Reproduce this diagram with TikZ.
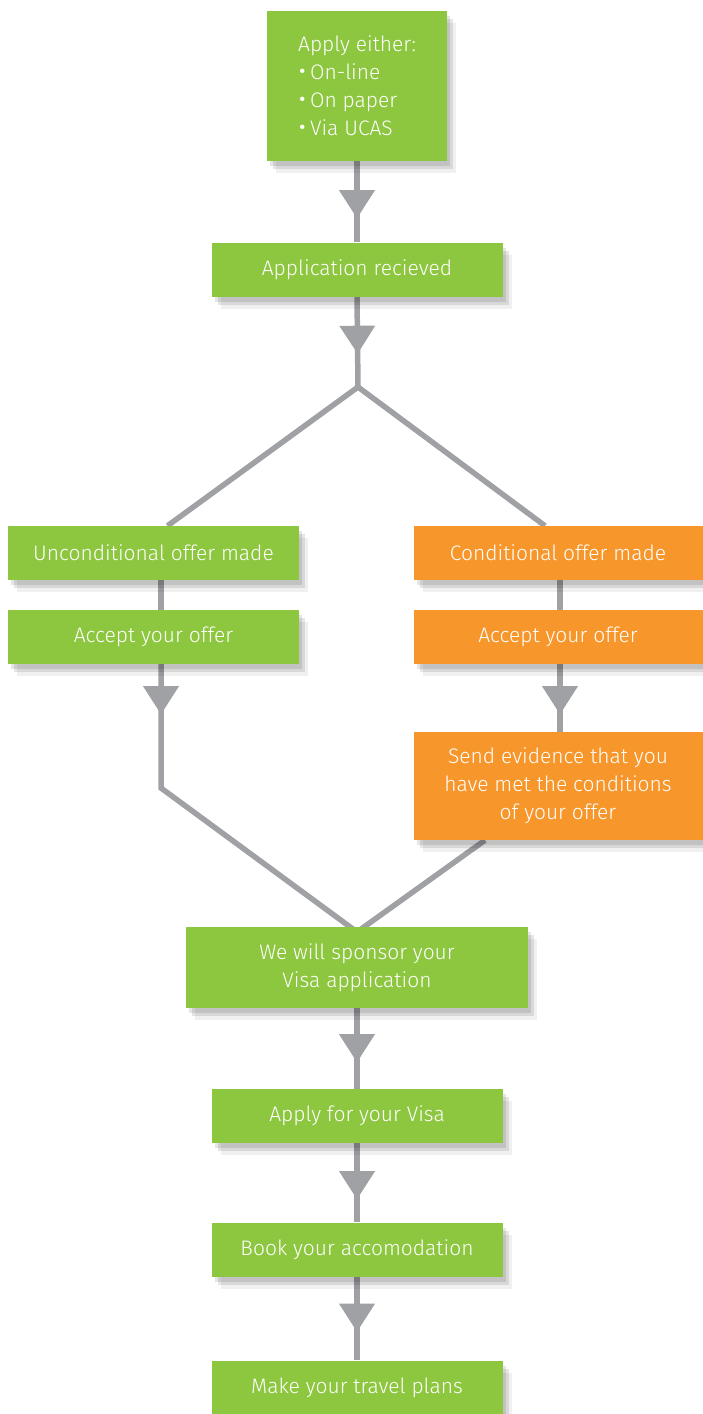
\documentclass[tikz,border=0pt]{standalone}
\usepackage{fontspec}
\setmainfont{Fira Sans}[UprightFont=* Light]
\usetikzlibrary{shadows,decorations.markings,backgrounds}

\definecolor{appgreen}{HTML}{8DC63F}
\definecolor{apporange}{HTML}{F7962B}
\definecolor{linkgray}{HTML}{A0A1A5}
\newcommand\boxfont{\fontsize{21}{28}\selectfont}
\newcommand\blt{\raisebox{-0.1em}[0.5em][0pt]{\scalebox{1.4}{\textbullet}}\,}

\begin{document}
\begin{tikzpicture}[x=1pt,y=-1pt,
    softshadow/.style={drop shadow={shadow xshift=3pt,shadow yshift=-5pt,opacity=.10,fill=black},
                       drop shadow={shadow xshift=6pt,shadow yshift=-8pt,opacity=.10,fill=black},
                       drop shadow={shadow xshift=9pt,shadow yshift=-12pt,opacity=.06,fill=black}},
    box/.style={fill=appgreen,text=white,minimum width=291pt,minimum height=54pt,inner sep=0pt,
                align=center,font=\boxfont,softshadow},
    condbox/.style={box,fill=apporange,minimum width=289pt},
    link/.style={draw=linkgray,line width=5.5pt},
    arrowmark/.style={postaction={decorate},decoration={markings,mark=at position #1 with
        {\fill[linkgray] (1pt,0pt) -- (-27pt,18pt) -- (-27pt,-18pt) -- cycle;}}}]

  %% Page size
  \useasboundingbox (0,0) rectangle (702,1414);

  %%%% Boxes of the main column %%%%
  \node[box,minimum width=180pt,minimum height=150pt,align=left] (apply) at (357,86)
    {Apply either:\\\blt On-line\\\blt On paper\\\blt Via UCAS};
  \node[box] (recv) at (357,269.5) {Application recieved};

  %% Left branch
  \node[box] (uncond) at (153.5,553) {Unconditional offer made};
  \node[box] (acceptL) at (153.5,637) {Accept your offer};

  %% Right branch
  \node[condbox] (cond) at (558,553) {Conditional offer made};
  \node[condbox] (acceptR) at (558,637) {Accept your offer};
  \node[condbox,minimum height=108pt] (evidence) at (558,786)
    {Send evidence that you\\have met the conditions\\of your offer};

  %% Back to the main column
  \node[box,minimum width=342pt,minimum height=81pt] (sponsor) at (357,967.5)
    {We will sponsor your\\Visa application};
  \node[box] (visa) at (357,1116) {Apply for your Visa};
  \node[box] (book) at (357,1249.5) {Book your accomodation};
  \node[box] (travel) at (357,1387.5) {Make your travel plans};

  %% Points where the lines split and join
  \coordinate (split) at (358,387);
  \coordinate (bendL) at (161,788);
  \coordinate (merge) at (357,932);

  %%%% Connectors, under the boxes %%%%
  \begin{pgfonlayer}{background}
    \draw[link,arrowmark=56pt] (apply.south) -- (recv.north);
    \draw[link,arrowmark=56pt] (recv.south) -- (split);
    \draw[link] ([xshift=14pt]uncond.north) -- (split) -- ([xshift=-13pt]cond.north);

    \draw[link] ([xshift=7.5pt]uncond.south) -- ([xshift=7.5pt]acceptL.north);
    \draw[link,arrowmark=49pt] (acceptL.south -| bendL) -- (bendL) -- (merge);

    \draw[link] ([xshift=2pt]cond.south) -- ([xshift=2pt]acceptR.north);
    \draw[link,arrowmark=49pt] ([xshift=2pt]acceptR.south) -- ([xshift=2pt]evidence.north);
    \draw[link] ([xshift=-73pt]evidence.south) -- (merge);

    \draw[link,arrowmark=53pt] (sponsor.south) -- (visa.north);
    \draw[link,arrowmark=55pt] (visa.south) -- (book.north);
    \draw[link,arrowmark=54pt] (book.south) -- (travel.north);
  \end{pgfonlayer}

\end{tikzpicture}
\end{document}
